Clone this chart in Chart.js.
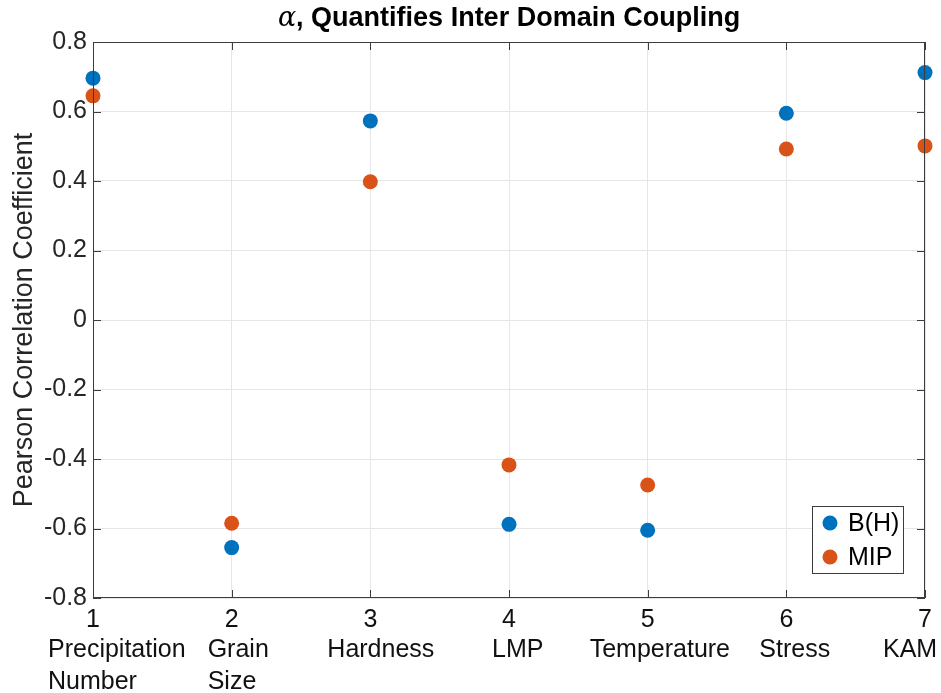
<!DOCTYPE html>
<html>
<head>
<meta charset="utf-8">
<script src="https://cdn.jsdelivr.net/npm/chart.js@4"></script>
<style>
  html, body { margin: 0; padding: 0; background: #fff; }
  #wrap { width: 941px; height: 693px; }
</style>
</head>
<body>
<div id="wrap"><canvas id="myChart" width="941" height="693"></canvas></div>
<script>
// veriler
const positions = [1, 2, 3, 4, 5, 6, 7];
const tickLabels = ['1', '2', '3', '4', '5', '6', '7'];
const categories = [['Precipitation', 'Number'], ['Grain', 'Size'], ['Hardness'], ['LMP'], ['Temperature'], ['Stress'], ['KAM']];
const bhValues = [0.696, -0.655, 0.573, -0.588, -0.605, 0.595, 0.712];
const mipValues = [0.645, -0.585, 0.398, -0.417, -0.475, 0.492, 0.501];

// kategori yazilarinin tik'e gore sol kaymasi (px)
const catOffset = [-45, -24, -43, -17, -58, -27, -42];

const FONT = '"Liberation Sans", Arial, sans-serif';

function toPoints(vals) {
    return positions.map((x, i) => ({ x: x, y: vals[i] }));
}

// kutu, ic tikler, baslik, kategori yazilari ve lejant
const matlabStyle = {
    id: 'matlabStyle',
    afterDraw(chart) {
        const ctx = chart.ctx;
        const a = chart.chartArea;
        const xs = chart.scales.x, ys = chart.scales.y;
        ctx.save();

        // kutu
        ctx.strokeStyle = '#3c3c3c';
        ctx.lineWidth = 1;
        ctx.strokeRect(a.left + 0.5, a.top + 0.5, a.right - a.left - 1, a.bottom - a.top - 1);

        // ic tikler
        const tl = 8;
        ctx.beginPath();
        ys.ticks.forEach(t => {
            const y = Math.round(ys.getPixelForValue(t.value)) + 0.5;
            ctx.moveTo(a.left, y); ctx.lineTo(a.left + tl, y);
            ctx.moveTo(a.right, y); ctx.lineTo(a.right - tl, y);
        });
        xs.ticks.forEach(t => {
            const x = Math.round(xs.getPixelForValue(t.value)) + 0.5;
            ctx.moveTo(x, a.bottom); ctx.lineTo(x, a.bottom - tl);
            ctx.moveTo(x, a.top); ctx.lineTo(x, a.top + tl);
        });
        ctx.stroke();

        // kategori yazilari
        ctx.fillStyle = '#111';
        ctx.font = '25px ' + FONT;
        ctx.textAlign = 'left';
        ctx.textBaseline = 'middle';
        categories.forEach((lines, i) => {
            const x = xs.getPixelForValue(positions[i]) + catOffset[i];
            lines.forEach((s, j) => ctx.fillText(s, x, a.bottom + 52 + j * 32));
        });

        // baslik
        const p1 = '\u03B1', p2 = ', Quantifies Inter Domain Coupling';
        ctx.font = 'italic 27px "DejaVu Serif", serif';
        const w1 = ctx.measureText(p1).width;
        ctx.font = 'bold 27px ' + FONT;
        const w2 = ctx.measureText(p2).width;
        let tx = (a.left + a.right) / 2 - (w1 + w2) / 2;
        ctx.fillStyle = '#000';
        ctx.font = 'italic 27px "DejaVu Serif", serif';
        ctx.fillText(p1, tx, 19);
        ctx.font = 'bold 27px ' + FONT;
        ctx.fillText(p2, tx + w1, 19);

        // y ekseni basligi
        ctx.save();
        ctx.translate(25, (a.top + a.bottom) / 2);
        ctx.rotate(-Math.PI / 2);
        ctx.textAlign = 'center';
        ctx.fillStyle = '#262626';
        ctx.font = '27px ' + FONT;
        ctx.fillText('Pearson Correlation Coefficient', 0, 0);
        ctx.restore();

        // lejant
        ctx.fillStyle = '#fff';
        ctx.fillRect(812, 506, 91, 67);
        ctx.strokeStyle = '#3c3c3c';
        ctx.strokeRect(812.5, 506.5, 91, 67);
        chart.data.datasets.forEach((ds, i) => {
            const cy = 523 + i * 34;
            ctx.beginPath();
            ctx.arc(830, cy, 7.5, 0, Math.PI * 2);
            ctx.fillStyle = ds.backgroundColor;
            ctx.fill();
            ctx.fillStyle = '#000';
            ctx.font = '25px ' + FONT;
            ctx.textAlign = 'left';
            ctx.fillText(ds.label, 848, cy + 1);
        });
        ctx.restore();
    }
};

const ctx = document.getElementById('myChart').getContext('2d');
new Chart(ctx, {
    type: 'scatter',
    data: {
        datasets: [
            { label: 'B(H)', data: toPoints(bhValues), backgroundColor: '#0072BD', borderWidth: 0, pointRadius: 7.5, clip: false },
            { label: 'MIP', data: toPoints(mipValues), backgroundColor: '#D95319', borderWidth: 0, pointRadius: 7.5, clip: false }
        ]
    },
    options: {
        responsive: false,
        animation: false,
        layout: { padding: { top: 42, right: 16, bottom: 0, left: 0 } },
        plugins: {
            legend: { display: false },
            title: { display: false },
            tooltip: { enabled: false }
        },
        scales: {
            x: {
                type: 'linear', min: 1, max: 7,
                afterFit: s => { s.height = 95; },
                ticks: {
                    stepSize: 1,
                    padding: 7,
                    color: '#111',
                    font: { family: FONT, size: 25 },
                    callback: (v) => tickLabels[positions.indexOf(v)] ?? ''
                },
                grid: { color: '#e6e6e6', drawTicks: false },
                border: { display: false }
            },
            y: {
                min: -0.8, max: 0.8,
                afterFit: s => { s.width = 93; },
                ticks: {
                    stepSize: 0.2,
                    padding: 6,
                    color: '#262626',
                    font: { family: FONT, size: 25 },
                    callback: (v) => Math.abs(v) < 1e-9 ? '0' : v.toFixed(1)
                },
                grid: { color: '#e6e6e6', drawTicks: false },
                border: { display: false }
            }
        }
    },
    plugins: [matlabStyle]
});
</script>
</body>
</html>
